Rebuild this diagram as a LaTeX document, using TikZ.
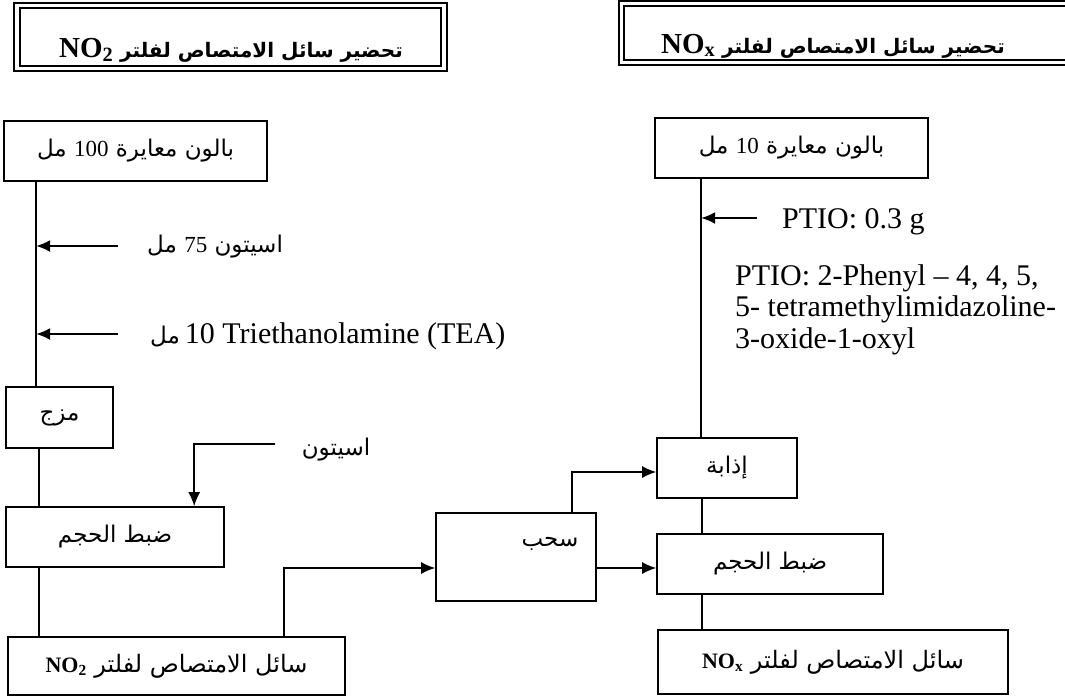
\documentclass[tikz,border=0pt]{standalone}
\usepackage{fontspec}
\setmainfont{Liberation Serif}
\newfontfamily\ar[Script=Arabic]{DejaVu Sans}
\usetikzlibrary{arrows.meta}
\TeXXeTstate=1

% Latin chemical formula kept left-to-right inside Arabic lines
\newcommand{\chem}[2]{\hbox{\beginL\rmfamily\bfseries\fontsize{#1}{#1}\selectfont NO\textsubscript{#2}\endL}}

\begin{document}
\begin{tikzpicture}[x=1pt,y=-1pt,
  box/.style={draw, line width=1.6pt, inner sep=0pt},
  link/.style={line width=1.5pt},
  feed/.style={line width=1.5pt, -{Latex[length=14pt,width=12pt]}},
  frame/.style={line width=1.8pt},
  artxt/.style={font=\ar\fontsize{23}{26}\selectfont, inner sep=0pt},
  resfont/.style={font=\ar\fontsize{24}{26}\selectfont, inner sep=0pt},
  ttlfont/.style={font=\ar\bfseries\fontsize{20}{24}\selectfont, inner sep=0pt},
  entxt/.style={font=\fontsize{30}{31.5}\selectfont, inner sep=0pt},
]
\useasboundingbox (0,0) rectangle (1065,697);

% ---- headings (double frame) ----
\draw[frame] (14,3) rectangle (447,71);
\draw[frame] (20,8) rectangle (441,66);
\node[ttlfont, anchor=base] (t1) at (231,57)
  {\beginR تحضير سائل الامتصاص لفلتر \chem{29}{2}\endR};

\draw[frame] (1065,1) -- (619,1) -- (619,65) -- (1065,65);
\draw[frame] (1065,6) -- (624,6) -- (624,60) -- (1065,60);
\node[ttlfont, anchor=base] (t2) at (833,53)
  {\beginR تحضير سائل الامتصاص لفلتر \chem{29}{x}\endR};

% ---- NO2 branch ----
\node[box, artxt, minimum width=263pt, minimum height=60pt] (b100) at (135.5,151)
  {\beginR بالون معايرة \hbox{\rmfamily 100} مل\endR};
\node[box, artxt, minimum width=107pt, minimum height=61pt] (mix) at (59.5,417.5)
  {\beginR مزج\endR};
\node[box, artxt, minimum width=218pt, minimum height=60pt] (vol1) at (115,537)
  {\beginR ضبط الحجم\endR};
\node[box, resfont, minimum width=337pt, minimum height=58pt] (res1) at (176.5,666)
  {\beginR سائل الامتصاص لفلتر \chem{22}{2}\endR};

\coordinate (spineL) at ([xshift=33pt]b100.south west);
\draw[link] (spineL) -- ([xshift=31pt]mix.north west);
\draw[link] ([xshift=34pt]mix.south west) -- ([xshift=34pt]vol1.north west);
\draw[link] ([xshift=34pt]vol1.south west) -- ([xshift=32pt]res1.north west);

\coordinate (a1) at (118,246);
\coordinate (a2) at (118,334);
\draw[feed] (a1) -- (a1 -| spineL);
\draw[feed] (a2) -- (a2 -| spineL);
\node[artxt, anchor=base west] (ac75) at (147,252)
  {\beginR اسيتون \hbox{\rmfamily 75} مل\endR};
\node[entxt, anchor=base west] (tea) at (150,343)
  {{\ar\fontsize{23}{26}\selectfont\beginR مل\endR}\,10 Triethanolamine (TEA)};

\coordinate (ac) at (275,444);
\node[artxt] (acet) at (336,450) {\beginR اسيتون\endR};
\draw[feed] (ac) -| ([xshift=189pt]vol1.north west);

% ---- withdrawal ----
\node[box, minimum width=160pt, minimum height=88pt] (pull) at (516,557) {};
\node[artxt] (pulltxt) at (550,544) {\beginR سحب\endR};
\draw[feed] ([xshift=277pt]res1.north west) |- ([yshift=-11pt]pull.west);

% ---- NOx branch ----
\node[box, artxt, minimum width=273pt, minimum height=60pt] (b10) at (791.5,148)
  {\beginR بالون معايرة \hbox{\rmfamily 10} مل\endR};
\node[box, artxt, minimum width=140pt, minimum height=60pt] (diss) at (727,468)
  {\beginR إذابة\endR};
\node[box, artxt, minimum width=226pt, minimum height=60pt] (vol2) at (770,564)
  {\beginR ضبط الحجم\endR};
\node[box, resfont, minimum width=350pt, minimum height=64pt] (res2) at (833,662)
  {\beginR سائل الامتصاص لفلتر \chem{22}{x}\endR};

\coordinate (spineR) at ([xshift=47pt]b10.south west);
\draw[link] (spineR) -- ([xshift=45pt]diss.north west);
\draw[link] ([xshift=46pt]diss.south west) -- ([xshift=46pt]vol2.north west);
\draw[link] ([xshift=46pt]vol2.south west) -- ([xshift=45pt]res2.north west);

\coordinate (p1) at (757,218);
\draw[feed] (p1) -- (p1 -| spineR);
\node[entxt, anchor=base west] (ptio) at (782,228) {PTIO: 0.3 g};
\node[entxt, anchor=north west, align=left] (ptiodef) at (735,264)
  {PTIO: 2-Phenyl -- 4, 4, 5,\\5- tetramethylimidazoline-\\3-oxide-1-oxyl};

\draw[feed] ([xshift=137pt]pull.north west) |- ([yshift=-4pt]diss.west);
\draw[feed] ([yshift=-11pt]pull.east) -- ([yshift=-11pt]pull.east -| vol2.west);
\end{tikzpicture}
\end{document}
